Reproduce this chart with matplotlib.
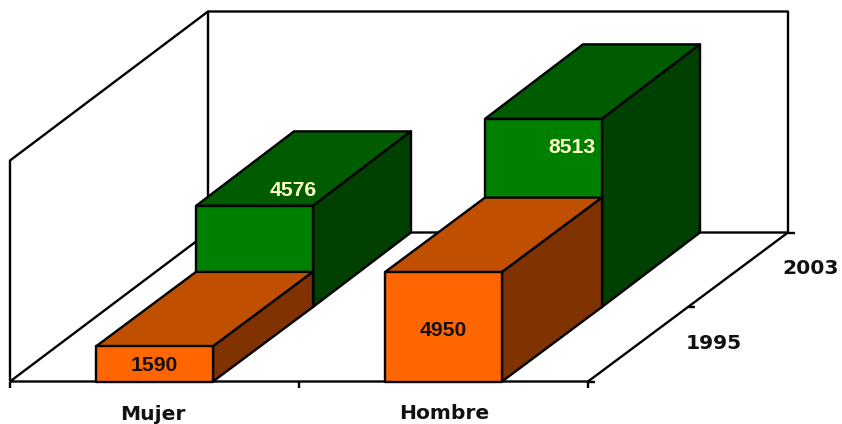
import matplotlib
matplotlib.use('Agg')
import matplotlib.pyplot as plt
from matplotlib.patches import Polygon

# Chart data
categories = ['Mujer', 'Hombre']
years = ['1995', '2003']
values_1995 = [1590, 4950]
values_2003 = [4576, 8513]
y_max = 10000

# Oblique projection, in canvas pixels
X0, Y0 = 10, 381.5
CAT_W = 289
DEPTH_X = 100
DEPTH_X_BACK = 98
DEPTH_Y = 74.5
PX_PER_UNIT = 221 / y_max
BAR_W = 117 / CAT_W
WALL_END = 2 + 2 / CAT_W
LW = 1.7

def project(cat, depth, val):
    dx = depth * DEPTH_X if depth <= 1 else DEPTH_X + (depth - 1) * DEPTH_X_BACK
    return (X0 + cat * CAT_W + dx, Y0 - depth * DEPTH_Y - val * PX_PER_UNIT)

def line(ax, points):
    xs, ys = zip(*[project(*p) for p in points])
    ax.plot(xs, ys, color='black', lw=LW, solid_capstyle='butt')

def bar3d(ax, cat, depth, val, front, top, side):
    x0 = cat + 0.5 - BAR_W / 2
    x1 = cat + 0.5 + BAR_W / 2
    faces = [
        ([(x0, depth, val), (x1, depth, val), (x1, depth + 1, val), (x0, depth + 1, val)], top),
        ([(x1, depth, 0), (x1, depth + 1, 0), (x1, depth + 1, val), (x1, depth, val)], side),
        ([(x0, depth, 0), (x1, depth, 0), (x1, depth, val), (x0, depth, val)], front),
    ]
    for corners, color in faces:
        ax.add_patch(Polygon([project(*c) for c in corners], closed=True,
                             facecolor=color, edgecolor='black', lw=LW,
                             joinstyle='round', zorder=3 - depth))

fig = plt.figure(figsize=(8.42, 4.24), dpi=100, facecolor='white')
ax = fig.add_axes([0, 0, 1, 1])
ax.set_xlim(0, 842)
ax.set_ylim(424, 0)
ax.axis('off')

# Walls and floor
line(ax, [(0, 0, 0), (0, 0, y_max), (0, 2, y_max), (WALL_END, 2, y_max), (WALL_END, 2, 0), (2, 0, 0), (0, 0, 0)])
line(ax, [(0, 0, 0), (0, 2, 0), (WALL_END, 2, 0)])
line(ax, [(0, 2, 0), (0, 2, y_max)])

# Tick marks
for c in range(3):
    x, y = project(c, 0, 0)
    ax.plot([x, x], [y, y + 6], color='black', lw=LW, solid_capstyle='butt')
for d in range(3):
    x, y = project(WALL_END if d == 2 else 2, d, 0)
    ax.plot([x, x + 7], [y, y], color='black', lw=LW, solid_capstyle='butt')

# Bars, back row first so the front row covers it
for i in range(len(categories)):
    bar3d(ax, i, 1, values_2003[i], '#008000', '#005C00', '#004000')
for i in range(len(categories)):
    bar3d(ax, i, 0, values_1995[i], '#FF6600', '#C04F00', '#803300')

# Value labels
label_font = dict(family='Liberation Sans', fontsize=15.2, fontweight='bold',
                  ha='center', va='center', zorder=10)
ax.text(154, 365.5, str(values_1995[0]), color='#111111', **label_font)
ax.text(443.5, 330.5, str(values_1995[1]), color='#111111', **label_font)
ax.text(293, 190, str(values_2003[0]), color='#FFFFCC', **label_font)
ax.text(571.5, 147.5, str(values_2003[1]), color='#FFFFCC', **label_font)

# Axis labels
axis_font = dict(family='DejaVu Sans', fontsize=14.6, fontweight='bold',
                 ha='center', va='center', color='#111111')
ax.text(153, 414, categories[0], **axis_font)
ax.text(444, 413.5, categories[1], **axis_font)
ax.text(714, 343.5, years[0], **axis_font)
ax.text(811, 269, years[1], **axis_font)

fig.savefig('out.png', dpi=100)
